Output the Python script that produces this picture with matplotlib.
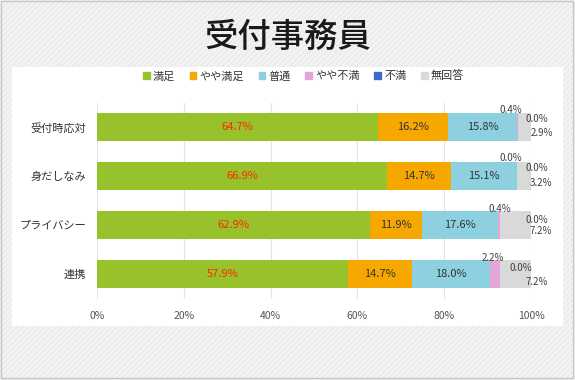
import matplotlib
matplotlib.use("Agg")
import matplotlib.pyplot as plt
from matplotlib.patches import Rectangle, Patch
import numpy as np

plt.rcParams['font.family'] = ['Noto Sans CJK JP', 'DejaVu Sans']

title = "受付事務員"
categories = ["受付時応対", "身だしなみ", "プライバシー", "連携"]
series_names = ["満足", "やや満足", "普通", "やや不満", "不満", "無回答"]
satisfied = [64.7, 66.9, 62.9, 57.9]
somewhat_satisfied = [16.2, 14.7, 11.9, 14.7]
neutral = [15.8, 15.1, 17.6, 18.0]
somewhat_dissatisfied = [0.4, 0.0, 0.4, 2.2]
dissatisfied = [0.0, 0.0, 0.0, 0.0]
no_answer = [2.9, 3.2, 7.2, 7.2]
x_ticks = [0, 20, 40, 60, 80, 100]

colors = ["#97C22B", "#F6A800", "#8DD1E0", "#E4A5D8", "#3A6CC6", "#D9D9D9"]
series = [satisfied, somewhat_satisfied, neutral, somewhat_dissatisfied, dissatisfied, no_answer]

# hand placement of the small labels (x in %, y offset in rows), like the original
small_label_pos = {
    3: [(95.3, -0.35), (95.3, -0.37), (92.7, -0.33), (91.2, -0.33)],
    4: [(101.4, -0.16), (101.4, -0.16), (101.4, -0.10), (97.6, -0.12)],
    5: [(102.4, 0.12), (102.2, 0.15), (102.2, 0.13), (101.4, 0.16)],
}

fig = plt.figure(figsize=(5.75, 3.8), dpi=100)
fig.patch.set_facecolor("#F3F3F3")
fig.patches.append(Rectangle((0, 0), 1, 1, transform=fig.transFigure, facecolor="#F3F3F3",
                             edgecolor="#EAEAEA", hatch="//////", linewidth=0, zorder=-3))
fig.patches.append(Rectangle((0.002, 0.005), 0.995, 0.993, transform=fig.transFigure,
                             facecolor="none", edgecolor="#C8C8C8", linewidth=1, zorder=-2))
fig.patches.append(Rectangle((12 / 575, 1 - 326 / 380), 551 / 575, 259 / 380,
                             transform=fig.transFigure, facecolor="white",
                             edgecolor="none", zorder=-1))

fig.text(0.5, 1 - 37 / 380, title, ha="center", va="center", fontsize=24,
         fontweight="medium", color="#1A1A1A")

ax = fig.add_axes([97 / 575, 1 - 298.5 / 380, 434 / 575, 196 / 380])
ax.set_facecolor("none")

y = np.arange(len(categories))
left = np.zeros(len(categories))
for i, (name, vals) in enumerate(zip(series_names, series)):
    vals = np.array(vals)
    ax.barh(y, vals, left=left, height=0.58, color=colors[i], label=name, zorder=2)
    for j, v in enumerate(vals):
        if i in small_label_pos:
            lx, dy = small_label_pos[i][j]
            ax.text(lx, y[j] + dy, f"{v:.1f}%", ha="center", va="center",
                    fontsize=7, color="#404040", zorder=3)
        else:
            ax.text(left[j] + v / 2, y[j], f"{v:.1f}%", ha="center", va="center",
                    fontsize=8, color="#FF2A00" if i == 0 else "#333333", zorder=3)
    left += vals

ax.set_xlim(0, 100)
ax.set_ylim(len(categories) - 0.5, -0.5)
ax.set_xticks(x_ticks)
ax.set_xticklabels([f"{t}%" for t in x_ticks], fontsize=7.5, color="#555555")
ax.set_yticks(y)
ax.set_yticklabels(categories, fontsize=8, color="#333333")
ax.tick_params(axis="both", length=0)
ax.tick_params(axis="x", pad=9)
ax.tick_params(axis="y", pad=8)
ax.grid(axis="x", color="#E3E3E3", linewidth=0.8, zorder=0)
for s in ax.spines.values():
    s.set_visible(False)

handles = [Patch(color=c) for c in colors]
fig.legend(handles, series_names, loc="center", ncol=6, bbox_to_anchor=(0.528, 1 - 76 / 380),
           frameon=False, fontsize=8, handlelength=0.6, handleheight=0.6,
           handletextpad=0.3, columnspacing=1.3, labelcolor="#333333")

plt.savefig("out.png", dpi=100)
